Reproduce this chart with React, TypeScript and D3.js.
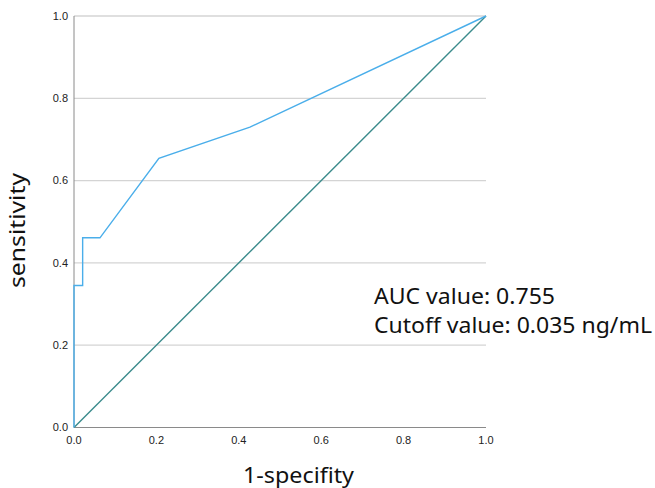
import React from "react";
import * as d3 from "d3";

// ROC curve points (1-specificity, sensitivity)
const fpr = [0, 0, 0.021, 0.021, 0.063, 0.206, 0.427, 1];
const tpr = [0, 0.345, 0.345, 0.461, 0.461, 0.654, 0.73, 1];
const refLine = [0, 1];
const ticks = [0, 0.2, 0.4, 0.6, 0.8, 1.0];
const notes = ["AUC value: 0.755", "Cutoff value: 0.035 ng/mL"];
const noteWidths = [181, 278];

const width = 655;
const height = 488;
const m = { left: 74, right: 486, top: 16, bottom: 427.5 };

export default function App() {
  const x = d3.scaleLinear().domain([0, 1]).range([m.left, m.right]);
  const y = d3.scaleLinear().domain([0, 1]).range([m.bottom, m.top]);

  const pts: [number, number][] = fpr.map((v, i) => [v, tpr[i]]);
  const line = d3
    .line<[number, number]>()
    .x((d) => x(d[0]))
    .y((d) => y(d[1]));

  const fmt = d3.format(".1f");
  const title = "'Noto Sans', 'DejaVu Sans', sans-serif";

  return (
    <svg
      width={width}
      height={height}
      style={{ position: "absolute", left: 0, top: 0, background: "#fff" }}
    >
      {/* gridlines */}
      {ticks.slice(1).map((t) => (
        <line
          key={"g" + t}
          x1={x(0)}
          x2={x(1)}
          y1={y(t)}
          y2={y(t)}
          stroke="#d4d4d4"
          strokeWidth={1.3}
        />
      ))}
      {/* axes */}
      <line x1={x(0)} x2={x(0)} y1={y(0)} y2={y(1)} stroke="#8a8a8a" strokeWidth={1} />
      <line x1={x(0)} x2={x(1)} y1={y(0)} y2={y(0)} stroke="#8a8a8a" strokeWidth={1} />

      {ticks.map((t) => (
        <text
          key={"y" + t}
          x={x(0) - 6}
          y={y(t)}
          dy="0.35em"
          textAnchor="end"
          fontFamily="'Liberation Sans', Arial, sans-serif"
          fontSize={11}
          fill="#222"
        >
          {fmt(t)}
        </text>
      ))}
      {ticks.map((t) => (
        <text
          key={"x" + t}
          x={x(t)}
          y={y(0) + 16}
          textAnchor="middle"
          fontFamily="'Liberation Sans', Arial, sans-serif"
          fontSize={11}
          fill="#222"
        >
          {fmt(t)}
        </text>
      ))}

      {/* reference diagonal */}
      <line
        x1={x(refLine[0])}
        y1={y(refLine[0])}
        x2={x(refLine[1])}
        y2={y(refLine[1])}
        stroke="#3b8b8c"
        strokeWidth={1.4}
      />
      {/* ROC curve */}
      <path d={line(pts) || ""} fill="none" stroke="#4aaeea" strokeWidth={1.4} />

      {/* axis titles */}
      <text
        x={243}
        y={482.5}
        textLength={111}
        lengthAdjust="spacingAndGlyphs"
        fontFamily={title}
        fontSize={21}
        fill="#111"
      >
        1-specifity
      </text>
      <text
        transform={`translate(25,288) rotate(-90)`}
        textLength={115}
        lengthAdjust="spacingAndGlyphs"
        fontFamily={title}
        fontSize={21}
        fill="#111"
      >
        sensitivity
      </text>

      {notes.map((n, i) => (
        <text
          key={n}
          x={374}
          y={304 + i * 29}
          textLength={noteWidths[i]}
          lengthAdjust="spacingAndGlyphs"
          fontFamily={title}
          fontSize={21.5}
          fill="#111"
        >
          {n}
        </text>
      ))}
    </svg>
  );
}
